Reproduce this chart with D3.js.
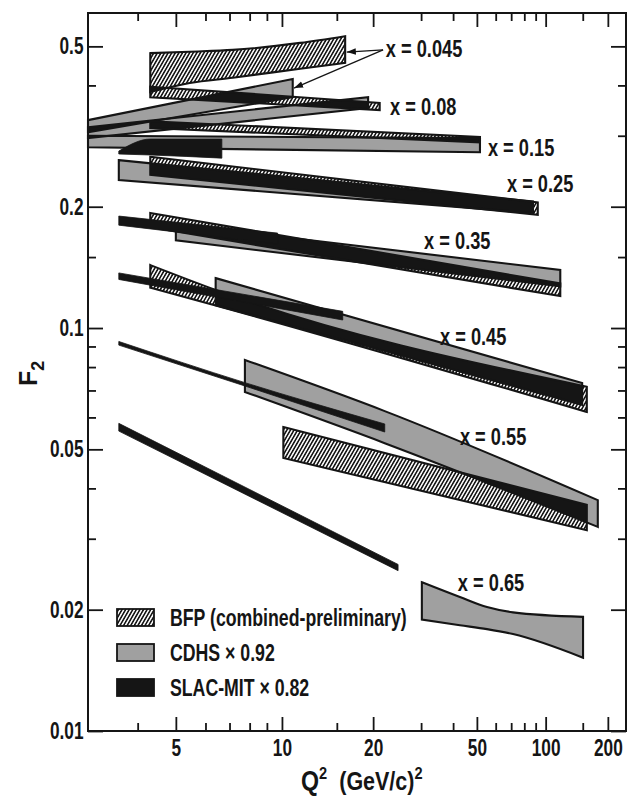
<!DOCTYPE html>
<html>
<head>
<meta charset="utf-8">
<script src="https://cdn.jsdelivr.net/npm/d3@7"></script>
<style>
  body { margin: 0; background: #fff; }
  text { font-family: "Liberation Sans", Arial, sans-serif; font-weight: bold; fill: #151515; }
</style>
</head>
<body>
<div id="chart"></div>
<script>
// x axis is spaced as ln ln(Q²/Λ²), y axis is log F2
const LAMBDA2 = 0.1;
const qDomain = [3.05, 248];
const f2Domain = [0.01, 0.605];

const qMajor = [5, 10, 20, 50, 100, 200];
const qMinor = [4, 6, 7, 8, 9, 15, 30, 40, 60, 70, 80, 90, 150];
const f2Major = [0.01, 0.02, 0.05, 0.1, 0.2, 0.5];
const f2MajorLabels = ['0.01', '0.02', '0.05', '0.1', '0.2', '0.5'];
const f2Minor = [0.03, 0.04, 0.06, 0.07, 0.08, 0.09, 0.15, 0.3, 0.4];

// bands: Q² points with upper / lower F2 edges
const cdhsBands = [
  { x: 0.045, q: [3.05, 10.8], hi: [0.328, 0.415], lo: [0.306, 0.374] },
  { x: 0.08, q: [3.05, 19.2], hi: [0.315, 0.374], lo: [0.296, 0.3515] },
  { x: 0.15, q: [3.05, 51.5], hi: [0.300, 0.296], lo: [0.281, 0.273] },
  { x: 0.25, q: [3.6, 87.5], hi: [0.261, 0.206], lo: [0.233, 0.193] },
  { x: 0.35, q: [5.0, 117], hi: [0.181, 0.1393], lo: [0.165, 0.127] },
  { x: 0.45, q: [6.4, 149], hi: [0.133, 0.073], lo: [0.114, 0.0645] },
  { x: 0.55, q: [7.75, 22, 178], hi: [0.0833, 0.0622, 0.0374], lo: [0.0694, 0.0518, 0.0321] },
  { x: 0.65, q: [30.2, 42.6, 55.1, 71.3, 150.5], hi: [0.0234, 0.0215, 0.0203, 0.0197, 0.0192], lo: [0.0189, 0.0183, 0.0179, 0.0174, 0.0152] },
];

const bfpBands = [
  { x: 0.045, q: [4.3, 5.44, 7.15, 11.4, 16.0], hi: [0.481, 0.485, 0.49, 0.51, 0.53], lo: [0.385, 0.4055, 0.418, 0.44, 0.455] },
  { x: 0.08, q: [4.3, 21.1], hi: [0.397, 0.362], lo: [0.374, 0.3475] },
  { x: 0.15, q: [4.3, 51.5], hi: [0.326, 0.298], lo: [0.3135, 0.289] },
  { x: 0.25, q: [4.3, 92], hi: [0.266, 0.205], lo: [0.24, 0.191] },
  { x: 0.35, q: [4.3, 117], hi: [0.193, 0.129], lo: [0.178, 0.12] },
  { x: 0.45, q: [4.3, 6.4, 157], hi: [0.1433, 0.1243, 0.0715], lo: [0.126, 0.1138, 0.0619] },
  { x: 0.55, q: [10.1, 157], hi: [0.0568, 0.0364], lo: [0.0476, 0.0315] },
];

const slacBands = [
  { x: 0.15, q: [3.6, 4.3, 6.66], hi: [0.2749, 0.2944, 0.2944], lo: [0.2703, 0.2688, 0.264] },
  { x: 0.35, q: [3.6, 9.7], hi: [0.1896, 0.172], lo: [0.18, 0.1616] },
  { x: 0.45, q: [3.6, 15.7], hi: [0.137, 0.11], lo: [0.132, 0.1047] },
  { x: 0.55, q: [3.6, 7.75, 22], hi: [0.0926, 0.0732, 0.0578], lo: [0.0907, 0.0718, 0.0552] },
  { x: 0.65, q: [3.6, 24.6], hi: [0.058, 0.0259], lo: [0.0555, 0.025] },
];

const binLabels = ['x = 0.045', 'x = 0.08', 'x = 0.15', 'x = 0.25', 'x = 0.35', 'x = 0.45', 'x = 0.55', 'x = 0.65'];
const labelQ = [22.2, 23.0, 55.6, 67.1, 30.8, 35.5, 42.6, 41.8];
const labelF2 = [0.495, 0.354, 0.281, 0.228, 0.165, 0.0955, 0.0537, 0.0234];

// the x = 0.045 label points at two bands
const arrowFrom = [21.7, 0.49];
const arrowTo = [[16.2, 0.484], [10.9, 0.394]];

const legendNames = ['BFP (combined-preliminary)', 'CDHS \u00d7 0.92', 'SLAC-MIT \u00d7 0.82'];

const W = 630, H = 800;
const plot = { left: 88, right: 626, top: 13, bottom: 731 };
const NARROW = 0.75; // the lettering is much narrower than any installed face

function lnln(q) { return Math.log(Math.log(q / LAMBDA2)); }
function lnlnScale(domain, range) {
  const inner = d3.scaleLinear().domain(domain.map(lnln)).range(range);
  const s = (q) => inner(lnln(q));
  s.domain = () => domain.slice();
  s.range = () => inner.range();
  s.copy = () => lnlnScale(domain, range);
  return s;
}

const x = lnlnScale(qDomain, [plot.left, plot.right]);
const y = d3.scaleLog().domain(f2Domain).range([plot.bottom, plot.top]);

const svg = d3.select('#chart').append('svg')
  .attr('width', W).attr('height', H)
  .style('background', '#fff');

const defs = svg.append('defs');
const hatch = defs.append('pattern')
  .attr('id', 'hatch')
  .attr('patternUnits', 'userSpaceOnUse')
  .attr('width', 3.1).attr('height', 10)
  .attr('patternTransform', 'rotate(30)');
hatch.append('rect').attr('width', 3.1).attr('height', 10).attr('fill', '#fff');
hatch.append('line').attr('x1', 1.55).attr('x2', 1.55).attr('y1', 0).attr('y2', 10)
  .attr('stroke', '#161616').attr('stroke-width', 1.6);

defs.append('marker')
  .attr('id', 'head')
  .attr('viewBox', '0 0 10 10')
  .attr('refX', 10).attr('refY', 5)
  .attr('markerWidth', 7).attr('markerHeight', 7)
  .attr('orient', 'auto')
  .append('path').attr('d', 'M0,1.5L10,5L0,8.5Z').attr('fill', '#111');

const area = d3.area()
  .x((d) => x(d.q))
  .y0((d) => y(d.lo))
  .y1((d) => y(d.hi))
  .curve(d3.curveMonotoneX);
const rows = (b) => b.q.map((q, i) => ({ q, hi: b.hi[i], lo: b.lo[i] }));

const GRAY = '#a0a0a0';
const INK = '#151515';

// shaded bands (CDHS + BFP); where two of them overlap the print goes black
const shaded = [
  ...cdhsBands.map((b) => ({ ...b, fill: GRAY })),
  ...bfpBands.map((b) => ({ ...b, fill: 'url(#hatch)' })),
];
shaded.forEach((b, i) => {
  b.d = area(rows(b));
  defs.append('clipPath').attr('id', `clip-${i}`).append('path').attr('d', b.d);
});

const bandG = svg.append('g');
bandG.selectAll('path.band')
  .data(shaded)
  .join('path')
  .attr('class', 'band')
  .attr('d', (d) => d.d)
  .attr('fill', (d) => d.fill);

shaded.forEach((a, i) => {
  shaded.forEach((b, j) => {
    if (j <= i) return;
    bandG.append('path')
      .attr('d', a.d)
      .attr('clip-path', `url(#clip-${j})`)
      .attr('fill', INK);
  });
});

bandG.selectAll('path.edge')
  .data(shaded)
  .join('path')
  .attr('class', 'edge')
  .attr('d', (d) => d.d)
  .attr('fill', 'none')
  .attr('stroke', INK)
  .attr('stroke-width', 2.1)
  .attr('stroke-linejoin', 'miter');

bandG.selectAll('path.slac')
  .data(slacBands)
  .join('path')
  .attr('class', 'slac')
  .attr('d', (d) => area(rows(d)))
  .attr('fill', INK)
  .attr('stroke', INK)
  .attr('stroke-width', 0.8);

// frame and ticks
svg.append('rect')
  .attr('x', plot.left).attr('y', plot.top)
  .attr('width', plot.right - plot.left).attr('height', plot.bottom - plot.top)
  .attr('fill', 'none').attr('stroke', INK).attr('stroke-width', 2);

function tickLayer(axis, tx, ty) {
  const g = svg.append('g').attr('transform', `translate(${tx},${ty})`).call(axis);
  g.select('.domain').remove();
  g.attr('font-family', null).attr('font-size', null);
  g.selectAll('line').attr('stroke', INK).attr('stroke-width', 1.8);
  g.selectAll('text')
    .style('font-size', '23px')
    .attr('fill', INK)
    .attr('transform', `scale(${NARROW},1)`);
  return g;
}
const noLabel = () => '';

tickLayer(d3.axisBottom(x).tickValues(qMajor).tickSize(-14).tickPadding(9).tickFormat(d3.format('d')), 0, plot.bottom);
tickLayer(d3.axisBottom(x).tickValues(qMinor).tickSize(-8).tickFormat(noLabel), 0, plot.bottom);
tickLayer(d3.axisTop(x).tickValues(qMajor).tickSize(-14).tickFormat(noLabel), 0, plot.top);
tickLayer(d3.axisTop(x).tickValues(qMinor).tickSize(-8).tickFormat(noLabel), 0, plot.top);

tickLayer(d3.axisLeft(y).tickValues(f2Major).tickSize(-15).tickPadding(6)
  .tickFormat((d) => f2MajorLabels[f2Major.indexOf(d)]), plot.left, 0);
tickLayer(d3.axisLeft(y).tickValues(f2Minor).tickSize(-8).tickFormat(noLabel), plot.left, 0);
tickLayer(d3.axisRight(y).tickValues(f2Major).tickSize(-15).tickFormat(noLabel), plot.right, 0);
tickLayer(d3.axisRight(y).tickValues(f2Minor).tickSize(-8).tickFormat(noLabel), plot.right, 0);

// axis titles
const xTitle = svg.append('text')
  .attr('transform', 'translate(301,790) scale(0.86,1)')
  .style('font-size', '25px');
xTitle.append('tspan').style('font-size', '27px').text('Q');
xTitle.append('tspan').attr('dy', -11).style('font-size', '17px').text('2');
xTitle.append('tspan').attr('dy', 11).attr('dx', 14).text('(GeV/c)');
xTitle.append('tspan').attr('dy', -11).style('font-size', '17px').text('2');

const yTitle = svg.append('text')
  .attr('transform', 'translate(37,386) rotate(-90)')
  .style('font-size', '25px');
yTitle.append('tspan').text('F');
yTitle.append('tspan').attr('dy', 7).style('font-size', '18px').text('2');

// bin labels
svg.append('g').selectAll('text')
  .data(binLabels)
  .join('text')
  .attr('transform', (d, i) => `translate(${x(labelQ[i])},${y(labelF2[i])}) scale(0.76,1)`)
  .attr('dy', '0.36em')
  .style('font-size', '24px')
  .text((d) => d);

svg.append('g').selectAll('line')
  .data(arrowTo)
  .join('line')
  .attr('x1', x(arrowFrom[0])).attr('y1', y(arrowFrom[1]))
  .attr('x2', (d) => x(d[0])).attr('y2', (d) => y(d[1]))
  .attr('stroke', INK).attr('stroke-width', 1.3)
  .attr('marker-end', 'url(#head)');

// legend
const legend = svg.append('g').attr('transform', 'translate(117,609)');
const legendFills = ['url(#hatch)', GRAY, INK];
const legendRow = legend.selectAll('g')
  .data(legendNames)
  .join('g')
  .attr('transform', (d, i) => `translate(0,${i * 35})`);
legendRow.append('rect')
  .attr('width', 37).attr('height', 17)
  .attr('fill', (d, i) => legendFills[i])
  .attr('stroke', INK).attr('stroke-width', 1.8);
legendRow.append('text')
  .attr('transform', 'translate(53,9) scale(0.77,1)')
  .attr('dy', '0.36em')
  .style('font-size', '23px')
  .text((d) => d);
</script>
</body>
</html>
